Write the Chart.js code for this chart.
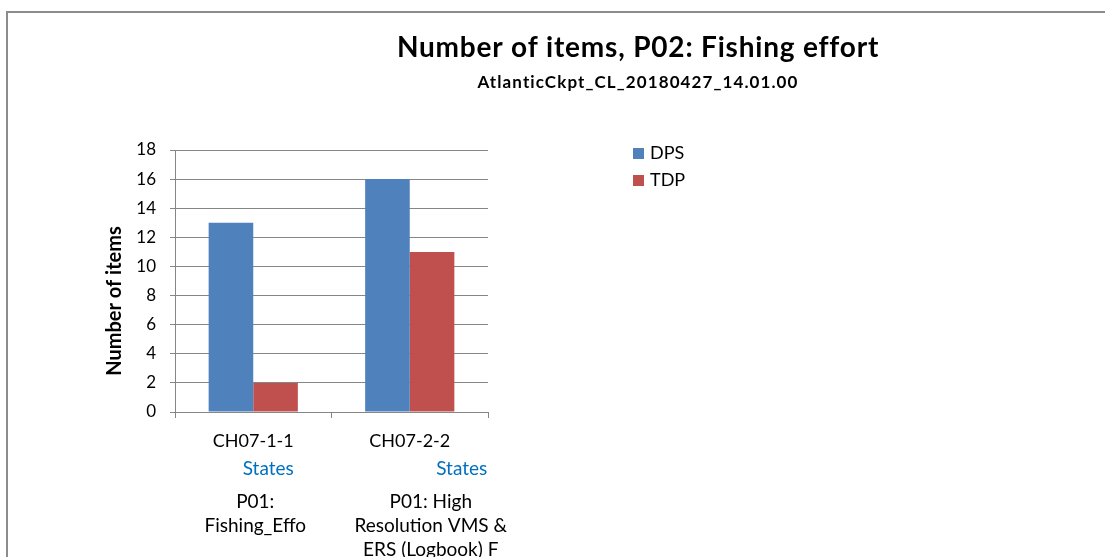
<!DOCTYPE html>
<html><head><meta charset="utf-8">
<script src="https://cdn.jsdelivr.net/npm/chart.js@4.4.1/dist/chart.umd.min.js"></script>
<style>
html,body{margin:0;padding:0;background:#fff;overflow:hidden}
#wrap{position:absolute;left:0;top:0;width:1105px;height:557px}
</style>
</head><body>
<div id="wrap"><canvas id="c" width="1105" height="557"></canvas></div>
<script>
// ---- data ----
const categories = ['CH07-1-1', 'CH07-2-2'];
const stateLabels = ['States', 'States'];
const groupLabels = [
  ['P01:', 'Fishing_Effo'],
  ['P01: High', 'Resolution VMS &', 'ERS (Logbook) F']
];
const seriesNames = ['DPS', 'TDP'];
const dpsValues = [13, 16];
const tdpValues = [2, 11];
const yMin = 0, yMax = 18, yStep = 2;
const chartTitle = 'Number of items, P02: Fishing effort';
const chartSubtitle = 'AtlanticCkpt_CL_20180427_14.01.00';
const yAxisTitle = 'Number of items';

// ---- style ----
const FONT = 'Lato, "Open Sans", sans-serif';
const BLUE = '#4F81BD', RED = '#C0504D', GRID = '#868686', STATE = '#0070C0';
const seriesColors = [BLUE, RED];
// per-category horizontal offsets of the extra label rows (relative to category centre)
const stateOffsets = [15, 52];
const groupOffsets = [2, 21];

function spaced(ctx, px) { if ('letterSpacing' in ctx) ctx.letterSpacing = px + 'px'; }

const decor = {
  id: 'decor',
  beforeDraw(chart) {
    const ctx = chart.ctx;
    ctx.save();
    ctx.fillStyle = '#fff';
    ctx.fillRect(0, 0, chart.width, chart.height);
    ctx.strokeStyle = '#8c8c8c';
    ctx.lineWidth = 2;
    ctx.strokeRect(7, 12, 1300, 800);
    ctx.restore();
  },
  afterDraw(chart) {
    const ctx = chart.ctx;
    const xs = chart.scales.x;
    ctx.save();
    ctx.fillStyle = '#000';
    ctx.textAlign = 'center';
    ctx.textBaseline = 'alphabetic';
    // titles
    ctx.font = 'bold 28px ' + FONT;
    spaced(ctx, 0.8);
    ctx.fillText(chartTitle, 638, 57);
    ctx.font = 'bold 17px ' + FONT;
    spaced(ctx, 1.1);
    ctx.fillText(chartSubtitle, 638, 88);
    spaced(ctx, 0);
    // y axis title
    ctx.save();
    ctx.translate(121, 301);
    ctx.rotate(-Math.PI / 2);
    ctx.font = 'bold 20px ' + FONT;
    ctx.fillText(yAxisTitle, 0, 0);
    ctx.restore();
    // legend
    const lgY = [148, 175];
    ctx.textAlign = 'left';
    ctx.font = '18px ' + FONT;
    seriesNames.forEach((n, i) => {
      ctx.fillStyle = seriesColors[i];
      ctx.fillRect(633, lgY[i], 11, 11);
      ctx.fillStyle = '#000';
      ctx.fillText(n, 650, lgY[i] + 11);
    });
    // category labels
    ctx.textAlign = 'center';
    categories.forEach((c, i) => {
      const cx = xs.getPixelForValue(i);
      ctx.font = '18px ' + FONT;
      ctx.fillStyle = '#000';
      ctx.fillText(c, cx, 447);
      ctx.font = '19px ' + FONT;
      ctx.fillStyle = STATE;
      ctx.fillText(stateLabels[i], cx + stateOffsets[i], 475);
      ctx.fillStyle = '#000';
      groupLabels[i].forEach((ln, k) => {
        ctx.fillText(ln, cx + groupOffsets[i], 508 + k * 24);
      });
    });
    ctx.restore();
  }
};

new Chart(document.getElementById('c'), {
  type: 'bar',
  data: {
    labels: categories,
    datasets: [
      { label: seriesNames[0], data: dpsValues, backgroundColor: BLUE, borderWidth: 0 },
      { label: seriesNames[1], data: tdpValues, backgroundColor: RED, borderWidth: 0 }
    ]
  },
  options: {
    responsive: false,
    animation: false,
    devicePixelRatio: 1,
    layout: { padding: { top: 150, right: 617, bottom: 0, left: 0 } },
    plugins: { legend: { display: false }, title: { display: false }, tooltip: { enabled: false } },
    datasets: { bar: { categoryPercentage: 0.57, barPercentage: 1.0 } },
    scales: {
      x: {
        offset: true,
        grid: { offset: true, drawOnChartArea: false, drawTicks: true, tickLength: 6, color: GRID, lineWidth: 1 },
        border: { display: true, color: GRID, width: 1 },
        ticks: { display: false },
        afterFit(s) { s.height = 145; }
      },
      y: {
        min: yMin, max: yMax,
        ticks: { stepSize: yStep, color: '#000', font: { family: FONT, size: 17 }, padding: 14 },
        grid: { color: GRID, lineWidth: 1, drawTicks: true, tickLength: 5 },
        border: { display: true, color: GRID, width: 1 },
        afterFit(s) { s.width = 175; }
      }
    }
  },
  plugins: [decor]
});
</script>
</body></html>
